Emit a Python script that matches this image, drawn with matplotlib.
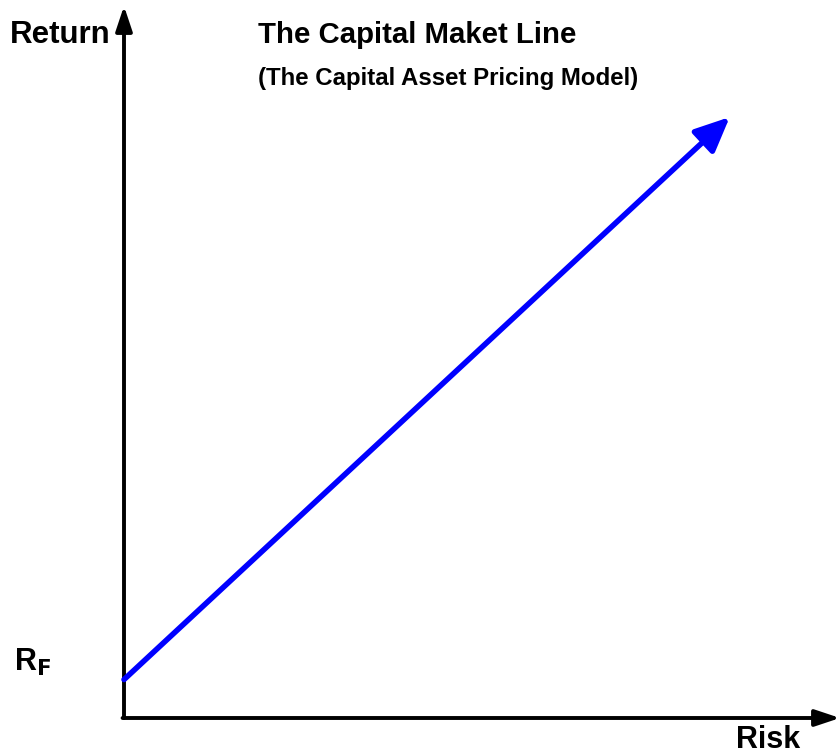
import matplotlib.pyplot as plt

plt.rcParams['font.family'] = ['Liberation Sans', 'DejaVu Sans']

# capital market line: risk on x, expected return on y
risk = [0.0, 8.46]
ret = [0.54, 8.44]
rf = ret[0]

title = 'The Capital Maket Line'
subtitle = '(The Capital Asset Pricing Model)'


def main():
    fig = plt.figure(figsize=(8.4, 7.56), dpi=100)
    ax = fig.add_axes([124 / 840, 38 / 756, 716 / 840, 712 / 756])
    ax.set_xlim(0, 10)
    ax.set_ylim(0, 10)
    ax.axis('off')

    # axes drawn as arrows
    ax.annotate('', xy=(0, 1.0), xytext=(0, 0), xycoords='axes fraction',
                arrowprops=dict(arrowstyle='-|>,head_length=1.5,head_width=0.5',
                                color='black', lw=2.8, shrinkA=0, shrinkB=0),
                annotation_clip=False)
    ax.annotate('', xy=(1.0, 0), xytext=(-0.002, 0), xycoords='axes fraction',
                arrowprops=dict(arrowstyle='-|>,head_length=1.5,head_width=0.5',
                                color='black', lw=2.8, shrinkA=0, shrinkB=0),
                annotation_clip=False)

    # the line itself
    ax.annotate('', xy=(risk[1], ret[1]), xytext=(risk[0], ret[0]),
                arrowprops=dict(arrowstyle='-|>,head_length=2.1,head_width=0.95',
                                color='blue', lw=4.0, shrinkA=0, shrinkB=0),
                annotation_clip=False)

    fig.text(10 / 840, 1 - 35 / 756, 'Return', fontsize=22.5, fontweight='bold',
             ha='left', va='center')
    fig.text(258 / 840, 1 - 35 / 756, title, fontsize=21.2, fontweight='bold',
             ha='left', va='center')
    fig.text(258 / 840, 1 - 78 / 756, subtitle, fontsize=17.3, fontweight='bold',
             ha='left', va='center')
    ax.text(-1.54, rf + 0.24, r'R$_\mathbf{F}$', fontsize=22, fontweight='bold',
            ha='left', va='center')
    fig.text(768 / 840, 1 - 740 / 756, 'Risk', fontsize=22, fontweight='bold',
             ha='center', va='center')

    fig.savefig('out.png', dpi=100)


if __name__ == '__main__':
    main()
